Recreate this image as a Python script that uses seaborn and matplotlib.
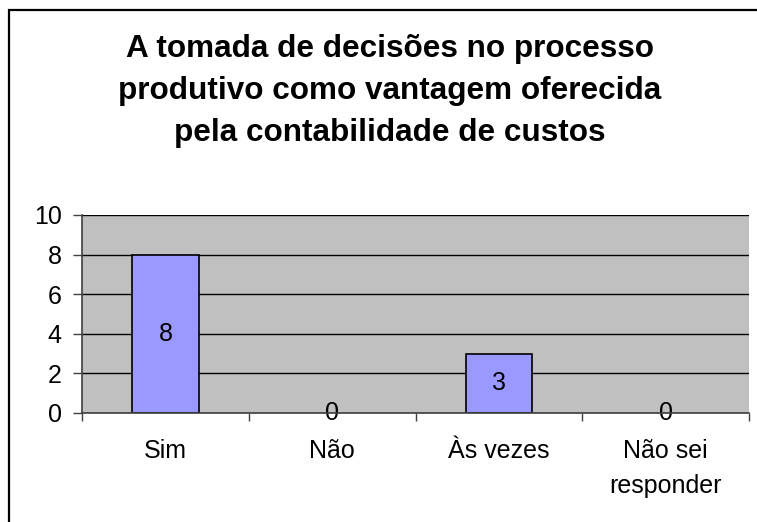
import matplotlib
matplotlib.use("Agg")
import matplotlib.pyplot as plt
import seaborn as sns
import pandas as pd
from matplotlib.patches import Rectangle

categories = ["Sim", "Não", "Às vezes", "Não sei\nresponder"]
values = [8, 0, 3, 0]
yticks = [0, 2, 4, 6, 8, 10]
title = "A tomada de decisões no processo\nprodutivo como vantagem oferecida\npela contabilidade de custos"

plt.rcParams['font.family'] = ['Liberation Sans', 'DejaVu Sans']

W, H = 757, 522
fig = plt.figure(figsize=(W / 100, H / 100), dpi=100)
fig.patch.set_facecolor("white")

# outer chart border (cut off at right and bottom)
fig.add_artist(Rectangle((9 / W, -0.05), 1.1, 1 - 10 / H + 0.05, transform=fig.transFigure,
                         fill=False, edgecolor="black", linewidth=1.6))

ax = fig.add_axes([82 / W, 1 - 413 / H, (749 - 82) / W, (413 - 215) / H])
df = pd.DataFrame({"cat": categories, "val": values})
sns.barplot(data=df, x="cat", y="val", color="#9999FF", saturation=1, width=0.4,
            edgecolor="black", linewidth=1.2, ax=ax, zorder=3)
for p in ax.patches:
    if p.get_height() == 0:
        p.set_linewidth(0)
ax.set_facecolor("#C0C0C0")
ax.set_xlim(-0.5, len(categories) - 0.5)
ax.set_ylim(0, 10)
ax.set_yticks(yticks)
ax.set_yticklabels([str(v) for v in yticks], fontsize=18)
ax.set_xlabel("")
ax.set_ylabel("")
ax.yaxis.grid(True, color="black", linewidth=1.0, zorder=1)
ax.xaxis.grid(False)
ax.set_axisbelow(True)
for s in ["top", "right"]:
    ax.spines[s].set_visible(False)
for s in ["left", "bottom"]:
    ax.spines[s].set_color("#404040")
    ax.spines[s].set_linewidth(1.2)
    ax.spines[s].set_zorder(4)
ax.tick_params(axis="y", length=6.5, width=1, color="#404040", pad=8)
ax.set_xticks(range(len(categories)))
ax.set_xticklabels(categories, fontsize=18, linespacing=1.55)
ax.tick_params(axis="x", which="major", length=0, pad=19)
ax.set_xticks([i - 0.5 for i in range(len(categories) + 1)], minor=True)
ax.tick_params(axis="x", which="minor", length=6, width=1, color="#404040")

ax.bar_label(ax.containers[0], labels=[str(v) for v in values], label_type="center", fontsize=18)

fig.text(390 / W, 1 - 91 / H, title, ha="center", va="center", fontsize=22.7,
         fontweight="bold", linespacing=1.5)

fig.savefig("out.png", dpi=100)
